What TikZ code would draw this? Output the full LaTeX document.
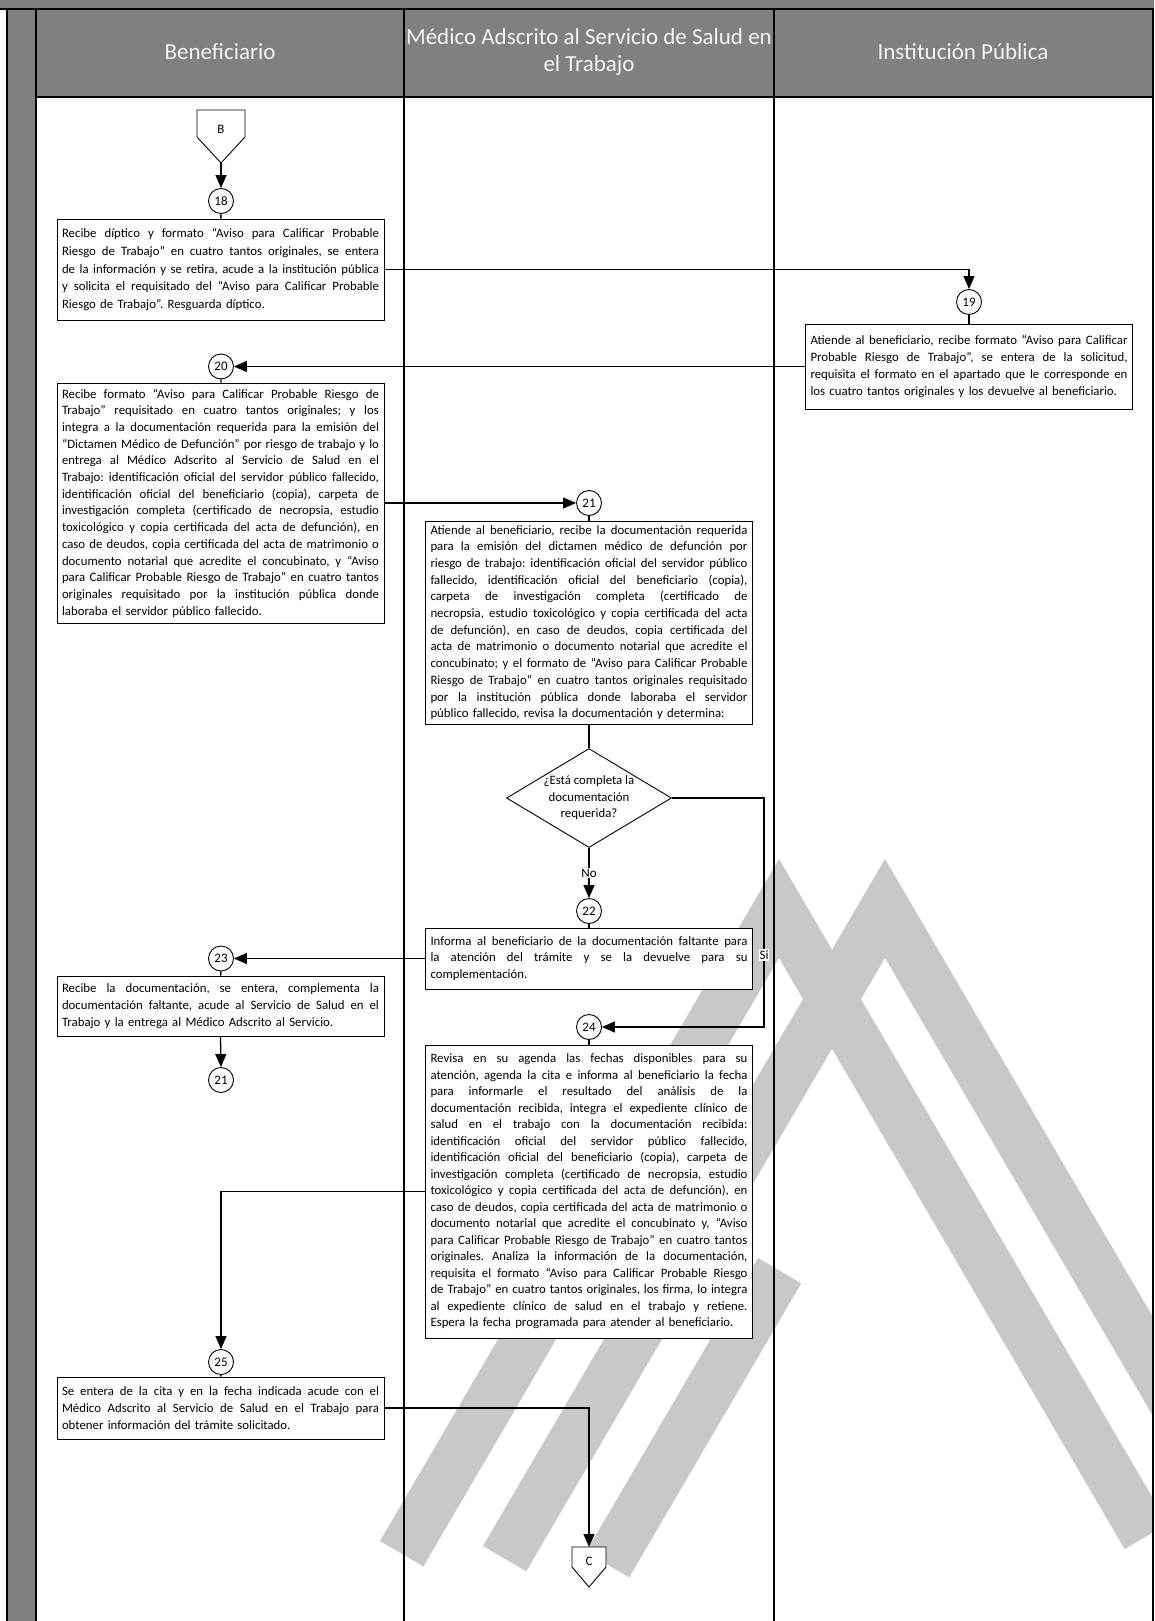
\documentclass[tikz,border=0pt]{standalone}
\usepackage{fontspec}
\setmainfont{Carlito}
\usetikzlibrary{arrows.meta,shapes.geometric}
\definecolor{hdrgray}{HTML}{808080}
\definecolor{wmgray}{HTML}{C8C8C8}
\definecolor{hdrtext}{HTML}{F4F4F4}
\newlength\tw \setlength\tw{317pt}
\ExplSyntaxOn
\tl_new:N \l_jl_line_tl
\NewDocumentCommand \jl { m }
  {
    \tl_set:Nn \l_jl_line_tl { #1 }
    \tl_replace_all:Nnn \l_jl_line_tl { ~ } { \hskip 0.18em plus 1fill minus 0.05em \relax }
    \leavevmode \hbox~to~\tw { \l_jl_line_tl } \\
  }
\ExplSyntaxOff
\newcommand\bodyfnt[1]{\fontsize{12.8}{#1}\selectfont\parindent0pt\frenchspacing}
\begin{document}
\begin{tikzpicture}[x=1pt,y=-1pt,
  lane/.style={line width=1.4pt},
  proc/.style={draw,line width=0.9pt,fill=white,text width=317pt,inner xsep=5pt,inner ysep=0pt,align=left,font=\bodyfnt{16.7}},
  cnum/.style={circle,draw,line width=0.9pt,fill=white,minimum size=25pt,inner sep=0pt,font=\fontsize{13}{13}\selectfont},
  arr/.style={line width=1.3pt,-{Triangle[length=13pt,width=11pt]}},
  ln/.style={line width=1.3pt},
  lbl/.style={fill=white,inner sep=1pt,font=\fontsize{13}{13}\selectfont},
  hdr/.style={text=hdrtext,font=\fontsize{23}{27}\selectfont,align=center},
]
\useasboundingbox (0,0) rectangle (1154,1621);
\fill[white] (0,0) rectangle (1154,1621);
% watermark
\begin{scope}
\clip (0,0) rectangle (1154,1621);
\fill[wmgray] (779,859) -- (380,1541) -- (423.4,1566.4) -- (779,958) -- (1124.6,1549) -- (1167.8,1523.7) -- cycle;
\fill[wmgray] (885,859) -- (483,1546) -- (526.2,1571.3) -- (885,958) -- (1295,1659) -- (1353,1659) -- cycle;
\fill[wmgray] (758,1258) -- (801.2,1283.3) -- (629.2,1577.3) -- (586,1552) -- cycle;
\end{scope}
% frame
\fill[hdrgray] (0,0) rectangle (1154,9);
\fill[hdrgray] (36,9) rectangle (1154,97);
\fill[hdrgray] (7,9) rectangle (36,1621);
\draw[lane] (0,9) -- (1154,9);
\draw[lane] (36,97) -- (1154,97);
\draw[lane] (7,9) -- (7,1621);
\draw[lane] (36,9) -- (36,1621);
\draw[lane] (404,9) -- (404,1621);
\draw[lane] (774,9) -- (774,1621);
\draw[lane] (1153,9) -- (1153,1621);
\node[hdr] (h1) at (220,52) {Beneficiario};
\node[hdr] (h2) at (589,52) {Médico Adscrito al Servicio de Salud en\\el Trabajo};
\node[hdr] (h3) at (963,52) {Institución Pública};
% connector B
\draw[line width=0.9pt,fill=white] (197,110) -- (245,110) -- (245,137) -- (221,163) -- (197,137) -- cycle;
\node[font=\fontsize{13}{13}\selectfont] (lB) at (221,129) {B};
\coordinate (Bout) at (221,163);
% circles
\node[cnum] (c18) at (221,201) {18};
\node[cnum] (c19) at (969,302) {19};
\node[cnum] (c20) at (221,366.5) {20};
\node[cnum] (c21) at (589,503) {21};
\node[cnum] (c22) at (589,911) {22};
\node[cnum] (c23) at (221,958.5) {23};
\node[cnum] (c21b) at (221,1080) {21};
\node[cnum] (c24) at (589,1027) {24};
\node[cnum] (c25) at (221,1362) {25};
% boxes
\node[proc,minimum height=101pt,font=\bodyfnt{17.8}] (b18) at (220.5,269.5) {%
\jl{Recibe díptico y formato “Aviso para Calificar Probable}
\jl{Riesgo de Trabajo” en cuatro tantos originales, se entera}
\jl{de la información y se retira, acude a la institución pública}
\jl{y solicita el requisitado del “Aviso para Calificar Probable}
Riesgo de Trabajo”. Resguarda díptico.};
\node[proc,minimum height=85pt] (b19) at (969,366.5) {%
\jl{Atiende al beneficiario, recibe formato “Aviso para Calificar}
\jl{Probable Riesgo de Trabajo”, se entera de la solicitud,}
\jl{requisita el formato en el apartado que le corresponde en}
los cuatro tantos originales y los devuelve al beneficiario.};
\node[proc,minimum height=240pt] (b20) at (220.5,503) {%
\jl{Recibe formato “Aviso para Calificar Probable Riesgo de}
\jl{Trabajo” requisitado en cuatro tantos originales; y los}
\jl{integra a la documentación requerida para la emisión del}
\jl{“Dictamen Médico de Defunción” por riesgo de trabajo y lo}
\jl{entrega al Médico Adscrito al Servicio de Salud en el}
\jl{Trabajo: identificación oficial del servidor público fallecido,}
\jl{identificación oficial del beneficiario (copia), carpeta de}
\jl{investigación completa (certificado de necropsia, estudio}
\jl{toxicológico y copia certificada del acta de defunción), en}
\jl{caso de deudos, copia certificada del acta de matrimonio o}
\jl{documento notarial que acredite el concubinato, y “Aviso}
\jl{para Calificar Probable Riesgo de Trabajo” en cuatro tantos}
\jl{originales requisitado por la institución pública donde}
laboraba el servidor público fallecido.};
\node[proc,minimum height=203pt] (b21) at (589,622.5) {%
\jl{Atiende al beneficiario, recibe la documentación requerida}
\jl{para la emisión del dictamen médico de defunción por}
\jl{riesgo de trabajo: identificación oficial del servidor público}
\jl{fallecido, identificación oficial del beneficiario (copia),}
\jl{carpeta de investigación completa (certificado de}
\jl{necropsia, estudio toxicológico y copia certificada del acta}
\jl{de defunción), en caso de deudos, copia certificada del}
\jl{acta de matrimonio o documento notarial que acredite el}
\jl{concubinato; y el formato de “Aviso para Calificar Probable}
\jl{Riesgo de Trabajo” en cuatro tantos originales requisitado}
\jl{por la institución pública donde laboraba el servidor}
público fallecido, revisa la documentación y determina:};
\node[diamond,draw,line width=0.9pt,fill=white,minimum width=165pt,minimum height=99pt,inner sep=0pt] (dec) at (589,798) {};
\node[align=center,font=\fontsize{12.8}{16.5}\selectfont] (dect) at (589,798) {¿Está completa la\\documentación\\requerida?};
\node[proc,minimum height=61pt] (b22) at (589,958.5) {%
\jl{Informa al beneficiario de la documentación faltante para}
\jl{la atención del trámite y se la devuelve para su}
complementación.};
\node[proc,minimum height=60pt] (b23) at (220.5,1006) {%
\jl{Recibe la documentación, se entera, complementa la}
\jl{documentación faltante, acude al Servicio de Salud en el}
Trabajo y la entrega al Médico Adscrito al Servicio.};
\node[proc,minimum height=293pt,font=\bodyfnt{16.5}] (b24) at (589,1191.5) {%
\jl{Revisa en su agenda las fechas disponibles para su}
\jl{atención, agenda la cita e informa al beneficiario la fecha}
\jl{para informarle el resultado del análisis de la}
\jl{documentación recibida, integra el expediente clínico de}
\jl{salud en el trabajo con la documentación recibida:}
\jl{identificación oficial del servidor público fallecido,}
\jl{identificación oficial del beneficiario (copia), carpeta de}
\jl{investigación completa (certificado de necropsia, estudio}
\jl{toxicológico y copia certificada del acta de defunción), en}
\jl{caso de deudos, copia certificada del acta de matrimonio o}
\jl{documento notarial que acredite el concubinato y, “Aviso}
\jl{para Calificar Probable Riesgo de Trabajo” en cuatro tantos}
\jl{originales. Analiza la información de la documentación,}
\jl{requisita el formato “Aviso para Calificar Probable Riesgo}
\jl{de Trabajo” en cuatro tantos originales, los firma, lo integra}
\jl{al expediente clínico de salud en el trabajo y retiene.}
Espera la fecha programada para atender al beneficiario.};
\node[proc,minimum height=62pt] (b25) at (220.5,1408) {%
\jl{Se entera de la cita y en la fecha indicada acude con el}
\jl{Médico Adscrito al Servicio de Salud en el Trabajo para}
obtener información del trámite solicitado.};
% connector C
\draw[line width=0.9pt,fill=white] (572,1547) -- (606,1547) -- (606,1567) -- (589,1587) -- (572,1567) -- cycle;
\node[font=\fontsize{13}{13}\selectfont] (lC) at (589,1561) {C};
\coordinate (Cin) at (589,1547);
\coordinate (siX) at (764,0);
% connectors
\draw[arr] (Bout) -- (c18.north);
\draw[ln] (c18) -- (b18);
\draw[arr] (b18.east) -| (c19.north);
\draw[ln] (c19) -- (b19);
\draw[arr] (b19.west) -- (c20.east);
\draw[ln] (c20) -- (b20);
\draw[arr] (b20.east) -- (c21.west);
\draw[ln] (c21) -- (b21);
\draw[ln] (b21) -- (dec);
\draw[arr] (dec.south) -- node[lbl] (lNo) {No} (c22.north);
\draw[ln] (c22) -- (b22);
\draw[arr] (b22.west) -- (c23.east);
\draw[ln] (c23) -- (b23);
\draw[arr] (b23.south) -- (c21b.north);
\draw[arr] (dec.east) -- (dec.east -| siX) |- (c24.east);
\node[lbl] (lSi) at (764,955) {Si};
\draw[ln] (c24) -- (b24);
\draw[arr] (b24.west) -| (c25.north);
\draw[ln] (c25) -- (b25);
\draw[arr] (b25.east) -| (Cin);
\end{tikzpicture}
\end{document}
